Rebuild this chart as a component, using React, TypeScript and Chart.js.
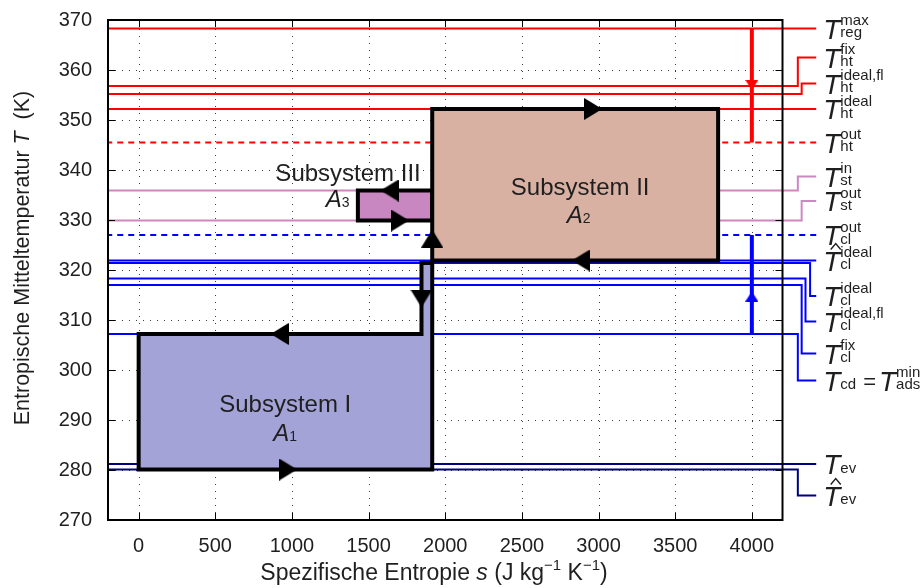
import { useEffect, useRef } from 'react';
import { Chart, registerables } from 'chart.js';

Chart.register(...registerables);

const FONT = '"Liberation Sans", Arial, Helvetica, sans-serif';
const INK = '#1f1f1f';

// Axis range and tick values
const sMin = -200;
const sMax = 4200;
const TMin = 270;
const TMax = 370;
const sTicks = [0, 500, 1000, 1500, 2000, 2500, 3000, 3500, 4000];
const TTicks = [270, 280, 290, 300, 310, 320, 330, 340, 350, 360, 370];

// Characteristic temperature levels (K) with the parts of their symbols
const levelT = [368.3, 356.8, 355.2, 352.2, 345.5, 335.9, 329.9, 327.0, 321.9, 321.4, 318.3, 317.0, 307.2, 281.2, 280.1];
const levelSub = ['reg', 'ht', 'ht', 'ht', 'ht', 'st', 'st', 'cl', 'cl', 'cl', 'cl', 'cl', 'cd', 'ev', 'ev'];
const levelSup = ['max', 'fix', 'ideal,fl', 'ideal', 'out', 'in', 'out', 'out', 'ideal', 'ideal', 'ideal,fl', 'fix', '', '', ''];
const levelHat = [false, false, false, false, false, false, false, false, true, false, false, false, false, false, true];
const levelCircuit = ['ht', 'ht', 'ht', 'ht', 'ht', 'st', 'st', 'cl', 'cl', 'cl', 'cl', 'cl', 'cl', 'ev', 'ev'];

// Subsystem outlines: specific entropy s (J kg^-1 K^-1) and mean temperature T (K)
const sub1S = [0, 1915, 1915, 1845, 1845, 0, 0];
const sub1T = [280.1, 280.1, 321.4, 321.4, 307.2, 307.2, 280.1];
const sub2S = [1915, 3780, 3780, 1915, 1915];
const sub2T = [321.9, 321.9, 352.2, 352.2, 321.9];
const sub3S = [1430, 1915, 1915, 1430, 1430];
const sub3T = [329.9, 329.9, 335.9, 335.9, 329.9];

// Direction markers along the outlines (heading in degrees, 0 = towards +s)
const flowS = [975, 920, 1845, 1915, 2965, 2885, 1637, 1705];
const flowT = [280.1, 307.2, 314.3, 326.3, 352.2, 321.9, 335.9, 329.9];
const flowHeading = [0, 180, 90, 270, 0, 180, 180, 0];

// Temperature shifts drawn at s = 4000
const shiftS = 4000;
const heatShiftT = [368.3, 345.5];
const coolShiftT = [307.2, 327.0];
const heatMarkT = 357.0;
const coolMarkT = 314.7;

// Subsystem captions (anchor s, baseline T)
const captionText = ['Subsystem I', 'Subsystem II', 'Subsystem III'];
const captionS = [956, 2880, 1366];
const captionT = [291.7, 335.0, 337.8];
const areaIndex = ['1', '2', '3'];
const areaS = [956, 2870, 1298];
const areaT = [285.8, 329.4, 332.6];

// Leader lines to the symbol column right of the axes
const leaderEndS = 4420;
const leaderStepS: (number | null)[] = [null, 4300, 4325, null, null, 4300, 4325, null, null, 4380, 4350, 4325, 4300, null, 4300];
const labelT = [368.3, 362.5, 357.3, 352.2, 345.5, 338.7, 333.8, 327.0, 321.9, 314.8, 309.7, 303.3, 297.9, 281.2, 274.9];

// Styling
const circuitColor: Record<string, string> = { ht: '#ff0000', st: '#cc88c0', cl: '#0000ff', ev: '#000080' };
const dashedLevels = [4, 7];
const fill1 = '#a3a3d8';
const fill2 = '#d8b1a3';
const fill3 = '#c887c0';

function arrowHead(len: number, wid: number, color: string) {
  const c = document.createElement('canvas');
  c.width = len;
  c.height = wid;
  const g = c.getContext('2d')!;
  g.fillStyle = color;
  g.beginPath();
  g.moveTo(0, 0);
  g.lineTo(len, wid / 2);
  g.lineTo(0, wid);
  g.closePath();
  g.fill();
  return c;
}

type Run = { t: string; size: number; italic?: boolean; dy?: number };

function runsWidth(ctx: CanvasRenderingContext2D, runs: Run[]) {
  let w = 0;
  for (const r of runs) {
    ctx.font = `${r.italic ? 'italic ' : ''}${r.size}px ${FONT}`;
    w += ctx.measureText(r.t).width;
  }
  return w;
}

function drawRuns(ctx: CanvasRenderingContext2D, runs: Run[], x: number, y: number) {
  for (const r of runs) {
    ctx.font = `${r.italic ? 'italic ' : ''}${r.size}px ${FONT}`;
    ctx.fillText(r.t, x, y + (r.dy || 0));
    x += ctx.measureText(r.t).width;
  }
  return x;
}

// Italic T with subscript, superscript and optional hat; returns the end x
function drawSymbol(ctx: CanvasRenderingContext2D, x: number, yMid: number, sub: string, sup: string, hat: boolean) {
  ctx.textAlign = 'left';
  ctx.textBaseline = 'alphabetic';
  ctx.font = `italic 28px ${FONT}`;
  ctx.fillText('T', x, yMid + 10);
  const adv = ctx.measureText('T').width;
  if (hat) {
    const cx = x + 12.5;
    const top = yMid - 10;
    ctx.save();
    ctx.strokeStyle = INK;
    ctx.lineWidth = 1.4;
    ctx.beginPath();
    ctx.moveTo(cx - 5, top - 1);
    ctx.lineTo(cx, top - 7);
    ctx.lineTo(cx + 5, top - 1);
    ctx.stroke();
    ctx.restore();
  }
  ctx.font = `15px ${FONT}`;
  let w = 0;
  if (sup) {
    ctx.fillText(sup, x + adv, yMid - 3.5);
    w = Math.max(w, ctx.measureText(sup).width);
  }
  if (sub) {
    ctx.fillText(sub, x + adv, yMid + 8.5);
    w = Math.max(w, ctx.measureText(sub).width);
  }
  return x + adv + w;
}

const decorations = {
  id: 'decorations',
  beforeDatasetsDraw(chart: any) {
    const { ctx, chartArea: a, scales } = chart;
    const xs = scales.x;
    const ys = scales.y;
    ctx.save();
    ctx.strokeStyle = '#3a3a3a';
    ctx.lineWidth = 1;
    ctx.setLineDash([1, 6]);
    for (const v of sTicks) {
      const px = Math.round(xs.getPixelForValue(v)) + 0.5;
      ctx.beginPath();
      ctx.moveTo(px, a.bottom);
      ctx.lineTo(px, a.top);
      ctx.stroke();
    }
    for (const v of TTicks) {
      if (v === TMin || v === TMax) continue;
      const py = Math.round(ys.getPixelForValue(v)) + 0.5;
      ctx.beginPath();
      ctx.moveTo(a.left, py);
      ctx.lineTo(a.right, py);
      ctx.stroke();
    }
    ctx.restore();
  },
  beforeDatasetDraw(chart: any, args: any) {
    const ds = chart.data.datasets[args.index];
    if (!ds.areaColor) return;
    const pts = args.meta.data;
    const ctx = chart.ctx;
    ctx.save();
    ctx.fillStyle = ds.areaColor;
    ctx.beginPath();
    pts.forEach((p: any, k: number) => (k ? ctx.lineTo(p.x, p.y) : ctx.moveTo(p.x, p.y)));
    ctx.closePath();
    ctx.fill();
    ctx.restore();
  },
  afterDatasetsDraw(chart: any) {
    const { ctx, chartArea: a, scales } = chart;
    const xs = scales.x;
    const ys = scales.y;
    ctx.save();
    // axes box
    ctx.strokeStyle = '#000';
    ctx.lineWidth = 2;
    ctx.strokeRect(a.left, a.top, a.right - a.left, a.bottom - a.top);
    // inward tick marks on all four sides
    ctx.lineWidth = 1;
    for (const v of sTicks) {
      const px = Math.round(xs.getPixelForValue(v)) + 0.5;
      ctx.beginPath();
      ctx.moveTo(px, a.bottom);
      ctx.lineTo(px, a.bottom - 7);
      ctx.moveTo(px, a.top);
      ctx.lineTo(px, a.top + 7);
      ctx.stroke();
    }
    for (const v of TTicks) {
      const py = Math.round(ys.getPixelForValue(v)) + 0.5;
      ctx.beginPath();
      ctx.moveTo(a.left, py);
      ctx.lineTo(a.left + 7, py);
      ctx.moveTo(a.right, py);
      ctx.lineTo(a.right - 7, py);
      ctx.stroke();
    }

    ctx.fillStyle = INK;
    // symbol column
    const x0 = xs.getPixelForValue(leaderEndS) + 7;
    levelT.forEach((_, i) => {
      const yMid = ys.getPixelForValue(labelT[i]);
      const end = drawSymbol(ctx, x0, yMid, levelSub[i], levelSup[i], levelHat[i]);
      if (levelSub[i] === 'cd') {
        ctx.font = `22px ${FONT}`;
        ctx.fillText('=', end + 7, yMid + 8);
        const eqEnd = end + 7 + ctx.measureText('=').width;
        drawSymbol(ctx, eqEnd + 3, yMid, 'ads', 'min', false);
      }
    });

    // subsystem captions
    ctx.textBaseline = 'alphabetic';
    captionText.forEach((t, i) => {
      ctx.textAlign = 'center';
      ctx.font = `24px ${FONT}`;
      ctx.fillText(t, xs.getPixelForValue(captionS[i]), ys.getPixelForValue(captionT[i]));
      ctx.textAlign = 'left';
      const runs: Run[] = [
        { t: 'A', size: 24, italic: true },
        { t: areaIndex[i], size: 14 },
      ];
      const w = runsWidth(ctx, runs);
      drawRuns(ctx, runs, xs.getPixelForValue(areaS[i]) - w / 2, ys.getPixelForValue(areaT[i]));
    });

    // axis titles
    ctx.textAlign = 'left';
    const xTitle: Run[] = [
      { t: 'Spezifische Entropie ', size: 23 },
      { t: 's', size: 23, italic: true },
      { t: ' (J kg', size: 23 },
      { t: '\u22121', size: 15, dy: -10 },
      { t: ' K', size: 23 },
      { t: '\u22121', size: 15, dy: -10 },
      { t: ')', size: 23 },
    ];
    const xw = runsWidth(ctx, xTitle);
    drawRuns(ctx, xTitle, 434 - xw / 2, 580);

    const yTitle: Run[] = [
      { t: 'Entropische Mitteltemperatur ', size: 21.5 },
      { t: 'T', size: 21.5, italic: true },
      { t: '  (K)', size: 21.5 },
    ];
    const yw = runsWidth(ctx, yTitle);
    ctx.translate(29, 258);
    ctx.rotate(-Math.PI / 2);
    drawRuns(ctx, yTitle, -yw / 2, 0);
    ctx.restore();
  },
};

export default function App() {
  const ref = useRef<HTMLCanvasElement>(null);

  useEffect(() => {
    const canvas = ref.current;
    if (!canvas) return;

    const bigHead = arrowHead(18, 22, '#000');
    const redHead = arrowHead(10, 13, '#ff0000');
    const blueHead = arrowHead(10, 13, '#0000ff');

    const levelSets = levelT.map((T, i) => {
      const step = leaderStepS[i];
      const lt = labelT[i];
      const pts =
        step === null
          ? [{ x: leaderEndS, y: T }, { x: sMin, y: T }]
          : [{ x: leaderEndS, y: lt }, { x: step, y: lt }, { x: step, y: T }, { x: sMin, y: T }];
      return {
        data: pts,
        borderColor: circuitColor[levelCircuit[i]],
        borderWidth: 2,
        borderDash: dashedLevels.includes(i) ? [6, 5] : [],
        pointRadius: 0,
        fill: false,
        tension: 0,
        clip: false,
        order: 5,
      };
    });

    const outline = (S: number[], T: number[], color: string) => ({
      data: S.map((s, k) => ({ x: s, y: T[k] })),
      borderColor: '#000',
      borderWidth: 4,
      borderJoinStyle: 'miter',
      borderCapStyle: 'square',
      pointRadius: 0,
      fill: false,
      tension: 0,
      clip: false,
      order: 3,
      areaColor: color,
    });

    const shift = (T: number[], color: string) => ({
      data: T.map((t) => ({ x: shiftS, y: t })),
      borderColor: color,
      borderWidth: 4,
      pointRadius: 0,
      fill: false,
      clip: false,
      order: 2,
    });

    const marks = (pts: { x: number; y: number }[], head: HTMLCanvasElement, rot: number[]) => ({
      data: pts,
      showLine: false,
      pointStyle: head,
      pointRadius: 10,
      pointRotation: rot,
      clip: false,
      order: 1,
    });

    const chart = new Chart(canvas, {
      type: 'line',
      data: {
        datasets: [
          ...levelSets,
          outline(sub1S, sub1T, fill1),
          outline(sub2S, sub2T, fill2),
          outline(sub3S, sub3T, fill3),
          shift(heatShiftT, '#ff0000'),
          shift(coolShiftT, '#0000ff'),
          marks(flowS.map((s, k) => ({ x: s, y: flowT[k] })), bigHead, flowHeading),
          marks([{ x: shiftS, y: heatMarkT }], redHead, [90]),
          marks([{ x: shiftS, y: coolMarkT }], blueHead, [270]),
        ] as any,
      },
      options: {
        animation: false,
        responsive: false,
        devicePixelRatio: 1,
        events: [],
        layout: { padding: { left: 0, top: 14, right: 139.5, bottom: 0 } },
        plugins: { legend: { display: false }, tooltip: { enabled: false } },
        scales: {
          x: {
            type: 'linear',
            min: sMin,
            max: sMax,
            grid: { display: false },
            border: { display: false },
            ticks: {
              font: { family: FONT, size: 20 },
              color: INK,
              padding: 6,
              maxRotation: 0,
              callback: (v: any) => String(v),
            },
            afterBuildTicks: (s: any) => {
              s.ticks = sTicks.map((v) => ({ value: v }));
            },
            afterFit: (s: any) => {
              s.height = 68;
            },
          },
          y: {
            type: 'linear',
            min: TMin,
            max: TMax,
            grid: { display: false },
            border: { display: false },
            ticks: { font: { family: FONT, size: 20 }, color: INK, padding: 8, callback: (v: any) => String(v) },
            afterBuildTicks: (s: any) => {
              s.ticks = TTicks.map((v) => ({ value: v }));
            },
            afterFit: (s: any) => {
              s.width = 108;
            },
          },
        },
      } as any,
      plugins: [decorations],
    });

    return () => chart.destroy();
  }, []);

  return (
    <div style={{ position: 'fixed', left: 0, top: 0, width: 922, height: 588, background: '#fff' }}>
      <canvas ref={ref} width={922} height={588} style={{ display: 'block', width: 922, height: 588 }} />
    </div>
  );
}
